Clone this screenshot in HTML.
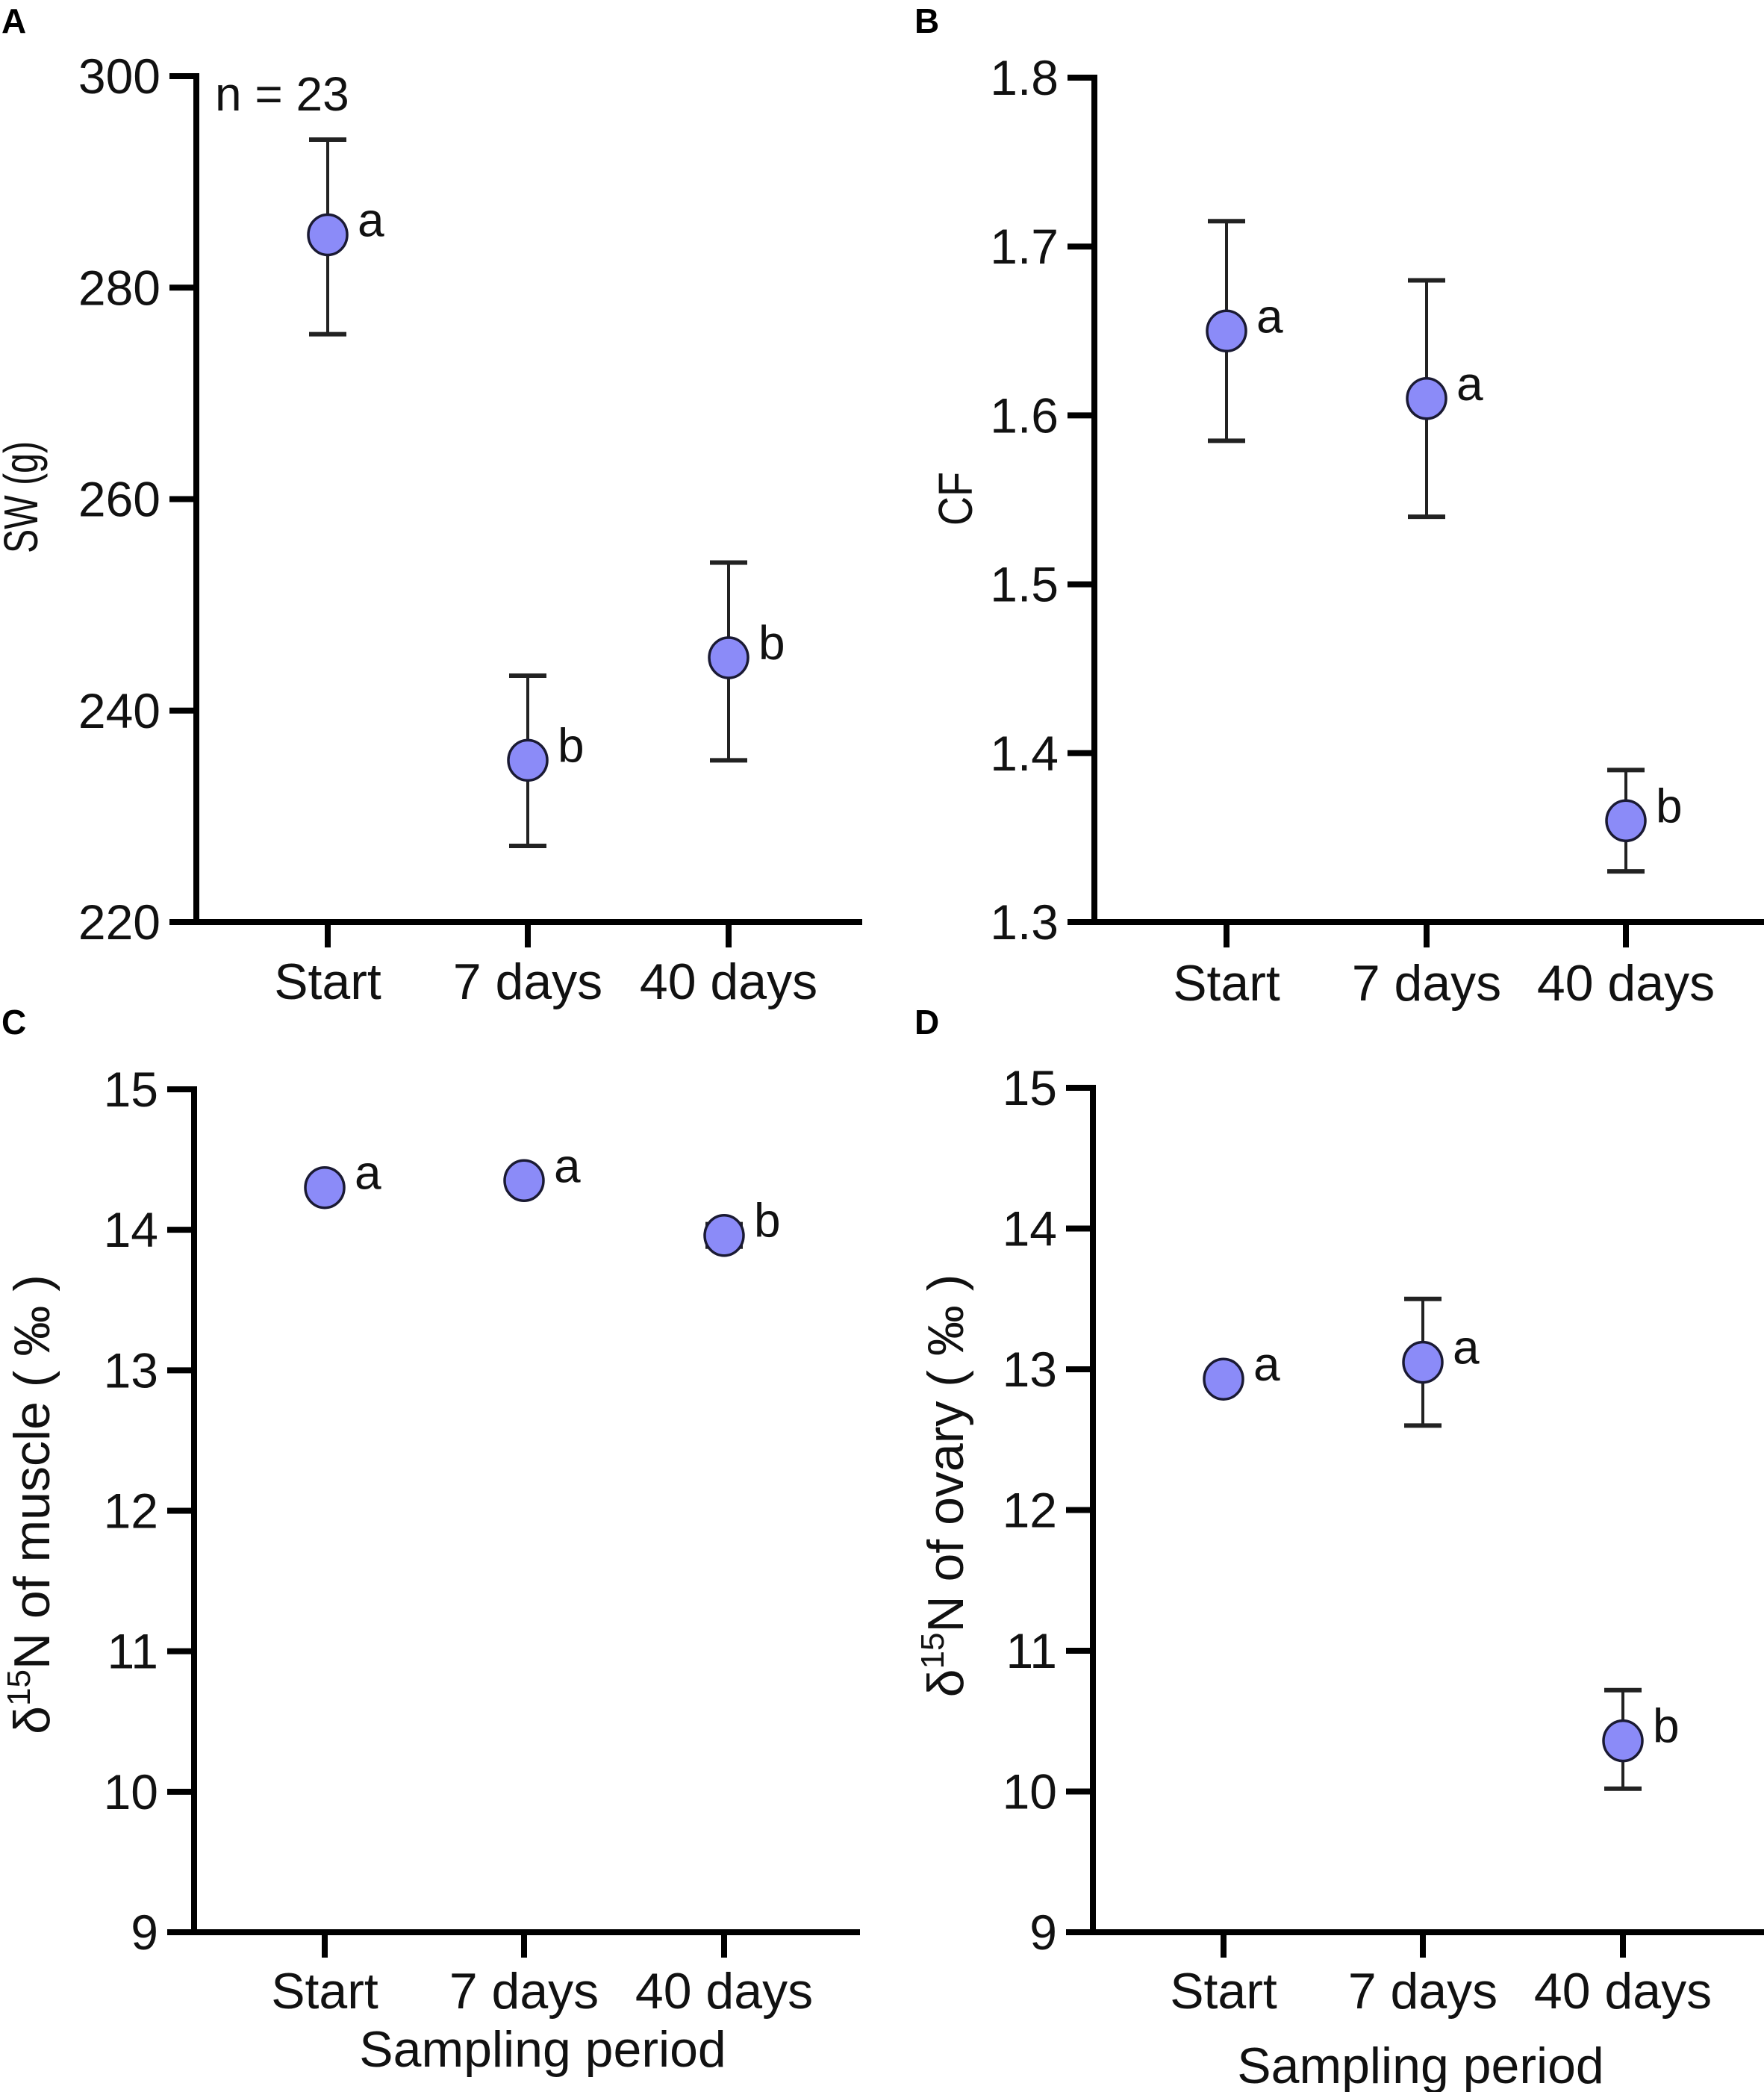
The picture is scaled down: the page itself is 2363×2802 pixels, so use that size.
<!DOCTYPE html>
<html><head><meta charset="utf-8"><style>
body{margin:0;background:#fff;}
svg{display:block;font-family:"Liberation Sans",Arial,sans-serif;}
</style></head><body>
<svg id="fig" width="2363" height="2802" viewBox="0 0 2363 2802" xmlns="http://www.w3.org/2000/svg"></svg>
<script>
const categories = ["Start","7 days","40 days"];
const swMean = [285, 235.3, 245];
const swHi = [294, 243.3, 254];
const swLo = [275.6, 227.2, 235.3];
const swTicks = [220,240,260,280,300];
const cfMean = [1.65, 1.61, 1.36];
const cfHi = [1.715, 1.68, 1.39];
const cfLo = [1.585, 1.54, 1.33];
const cfTicks = [1.3,1.4,1.5,1.6,1.7,1.8];
const muscleMean = [14.3, 14.35, 13.96];
const muscleHi = [14.3, 14.35, 14.04];
const muscleLo = [14.3, 14.35, 13.88];
const nTicks = [9,10,11,12,13,14,15];
const ovaryMean = [12.93, 13.05, 10.36];
const ovaryHi = [12.93, 13.5, 10.72];
const ovaryLo = [12.93, 12.6, 10.02];
const swLetters = ["a","b","b"];
const cfLetters = ["a","a","b"];
const muscleLetters = ["a","a","b"];
const ovaryLetters = ["a","a","b"];

const NS="http://www.w3.org/2000/svg";
const svg=document.getElementById('fig');
function mk(tag,attrs,parent,text){const e=document.createElementNS(NS,tag);for(const k in attrs)e.setAttribute(k,attrs[k]);if(text!==undefined)e.textContent=text;(parent||svg).appendChild(e);return e;}

function panel(o){
  const g=mk('g',{});
  
  
  const ymin=o.ticks[0], ymax=o.ticks[o.ticks.length-1];
  const y=v=>o.y0+(v-ymin)/(ymax-ymin)*(o.y1-o.y0);
  const x=i=>o.cx[i];
  const lt=mk('text',{x:o.lx,y:o.ly,'font-size':46,'font-weight':'bold',fill:'#000'},g,o.letter);
  
  
  const ya=mk('line',{x1:o.ax,y1:o.y1-4,x2:o.ax,y2:o.y0+4,stroke:'#000','stroke-width':8},g);
  
  
  const xa=mk('line',{x1:o.ax-4,y1:o.y0,x2:o.xend,y2:o.y0,stroke:'#000','stroke-width':8},g);
  
  
  o.ticks.forEach(t=>{
    mk('line',{x1:o.ax-36,y1:y(t),x2:o.ax,y2:y(t),stroke:'#000','stroke-width':8},g);
    const tl=mk('text',{x:o.ax-48,y:y(t)+23,'font-size':66,'text-anchor':'end',fill:'#111'},g,String(t));
    
    
  });
  categories.forEach((c,i)=>{
    mk('line',{x1:x(i),y1:o.y0,x2:x(i),y2:o.y0+34,stroke:'#000','stroke-width':8},g);
    const cl=mk('text',{x:x(i),y:o.xly,'font-size':68,'text-anchor':'middle',fill:'#111'},g,c);
    
    
  });
  const ta={x:0,y:0,'font-size':o.delta?68:64,'text-anchor':'middle',fill:'#111',transform:`translate(${o.ytx},${o.yty}) rotate(-90)`};
  if(o.tlen){ta.textLength=o.tlen;ta.lengthAdjust='spacingAndGlyphs';}
  const yt=mk('text',ta,g);
  
  
  if(o.delta){
    mk('tspan',{},yt,'δ');
    mk('tspan',{'font-size':44,dy:-26},yt,'15');
    mk('tspan',{dy:26},yt,'N of '+o.delta+' ( ‰ )');
  } else yt.textContent=o.title;
  o.mean.forEach((m,i)=>{
    if(o.hi[i]-o.lo[i]>0.001){
      const eb=mk('g',{stroke:'#222','stroke-width':4},g);
      
      
      mk('line',{x1:x(i),y1:y(o.hi[i]),x2:x(i),y2:y(o.lo[i])},eb);
      mk('line',{x1:x(i)-25,y1:y(o.hi[i]),x2:x(i)+25,y2:y(o.hi[i]),'stroke-width':6},eb);
      mk('line',{x1:x(i)-25,y1:y(o.lo[i]),x2:x(i)+25,y2:y(o.lo[i]),'stroke-width':6},eb);
    }
    const c=mk('ellipse',{cx:x(i),cy:y(m),rx:26,ry:27,fill:'#8b8bf8',stroke:'#1a1a33','stroke-width':3.5},g);
    
    
    const sl=mk('text',{x:x(i)+40,y:y(m)+2,'font-size':64,fill:'#111'},g,o.letters[i]);
    
    
  });
  if(o.xtitle){
    const xt=mk('text',{x:o.xtx,y:o.xty,'font-size':68,'text-anchor':'middle',fill:'#111'},g,'Sampling period');
    
    
  }
  return g;
}
panel({name:'panel-a-sw',letter:'A',lx:2,ly:44,ax:263,y0:1235,y1:102,xend:1155,cx:[439,707,976],ticks:swTicks,mean:swMean,hi:swHi,lo:swLo,letters:swLetters,title:'SW (g)',tlen:150,ytx:50,yty:666,xly:1338});
const n=mk('text',{x:288,y:148,'font-size':64,fill:'#111'},svg,'n = 23');


panel({name:'panel-b-cf',letter:'B',lx:1225,ly:44,ax:1466,y0:1235,y1:104,xend:2363,cx:[1643,1911,2178],ticks:cfTicks,mean:cfMean,hi:cfHi,lo:cfLo,letters:cfLetters,title:'CF',tlen:72,ytx:1302,yty:668,xly:1340});
panel({name:'panel-c-muscle',letter:'C',lx:2,ly:1385,ax:260,y0:2588,y1:1459,xend:1152,cx:[435,702,970],ticks:nTicks,mean:muscleMean,hi:muscleHi,lo:muscleLo,letters:muscleLetters,delta:'muscle',ytx:66,yty:2015,xly:2690,xtitle:true,xtx:727,xty:2768});
panel({name:'panel-d-ovary',letter:'D',lx:1225,ly:1385,ax:1464,y0:2588,y1:1457,xend:2363,cx:[1639,1906,2174],ticks:nTicks,mean:ovaryMean,hi:ovaryHi,lo:ovaryLo,letters:ovaryLetters,delta:'ovary',ytx:1290,yty:1990,xly:2690,xtitle:true,xtx:1903,xty:2790});
</script>
</body></html>
